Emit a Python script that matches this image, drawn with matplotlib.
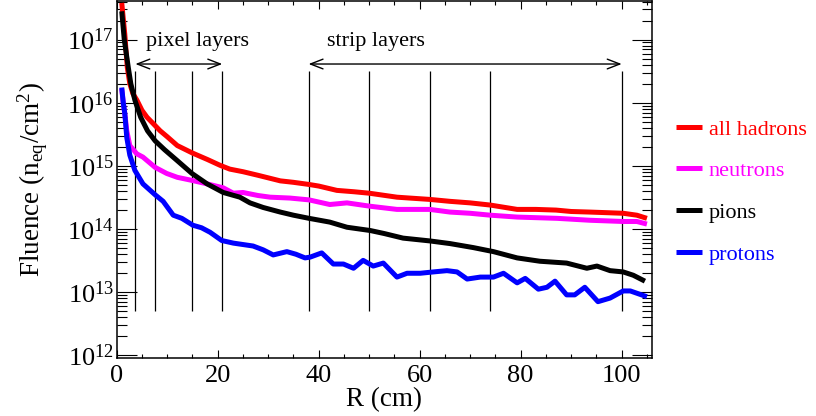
from matplotlib import pyplot as plt
import numpy as np

# radius (cm) and fluence (n_eq/cm^2)
r_all = [1.0, 1.6, 2.1, 2.6, 3.2, 4.0, 5.0, 6.0, 7.2, 8.6, 10, 12, 15, 18, 20.5, 22.4, 25, 28,
         32.4, 35, 38, 40, 43.6, 47, 50, 55.5, 58, 62, 66, 70, 74, 79.3, 83, 87, 90, 93.7, 97,
         100.3, 103, 105]
f_all = [3.8e17, 1.23e17, 3.6e16, 2.0e16, 1.4e16, 1.1e16, 7.6e15, 5.9e15, 4.7e15, 3.6e15, 2.9e15,
         2.1e15, 1.6e15, 1.26e15, 1.02e15, 8.9e14, 8.1e14, 7.1e14, 5.8e14, 5.5e14, 5.1e14, 4.8e14,
         4.1e14, 3.9e14, 3.7e14, 3.2e14, 3.1e14, 2.95e14, 2.75e14, 2.6e14, 2.4e14, 2.05e14, 2.05e14,
         2.0e14, 1.9e14, 1.86e14, 1.82e14, 1.78e14, 1.66e14, 1.48e14]

r_neu = [1.0, 1.3, 1.6, 2.0, 2.6, 4.0, 5.2, 7.6, 9.9, 12, 14.9, 17.9, 21.1, 23.1, 25, 28, 30.4,
         34.3, 38.1, 42.2, 45.6, 50.2, 55.5, 62, 66, 70, 74, 79.3, 87.2, 93.7, 100.3, 103, 105]
f_neu = [1.66e16, 1.0e16, 6.8e15, 3.6e15, 2.1e15, 1.55e15, 1.38e15, 9.5e14, 7.6e14, 6.6e14, 5.9e14,
         5.2e14, 4.5e14, 3.7e14, 3.8e14, 3.4e14, 3.2e14, 3.1e14, 2.9e14, 2.45e14, 2.6e14, 2.3e14,
         2.05e14, 2.05e14, 1.86e14, 1.78e14, 1.66e14, 1.55e14, 1.48e14, 1.38e14, 1.32e14, 1.32e14,
         1.2e14]

r_pi = [1.0, 1.5, 2.3, 2.8, 3.6, 4.75, 6.1, 7.6, 9.5, 11.9, 14.9, 17.9, 21.1, 24.4, 26.4, 29,
        32.4, 35, 38.1, 42.2, 45.6, 50.2, 53, 56.7, 62, 66, 70.6, 74.6, 79.3, 83.8, 89.1, 93.1,
        95.1, 97.7, 100.3, 102.3, 104.6]
f_pi = [2.8e17, 1.0e17, 3.6e16, 2.0e16, 1.1e16, 5.9e15, 3.6e15, 2.5e15, 1.8e15, 1.23e15, 7.6e14,
        5.2e14, 3.8e14, 3.2e14, 2.6e14, 2.2e14, 1.86e14, 1.66e14, 1.48e14, 1.29e14, 1.07e14, 9.5e13,
        8.5e13, 7.2e13, 6.5e13, 5.9e13, 5.1e13, 4.4e13, 3.5e13, 3.1e13, 2.9e13, 2.4e13, 2.6e13,
        2.2e13, 2.1e13, 1.86e13, 1.5e13]

r_pro = [1.0, 1.3, 1.6, 2.0, 2.6, 3.6, 5.2, 7.6, 9.2, 11.2, 12.9, 15.1, 16.8, 18.5, 20.8, 23.1,
         27, 29, 31, 33.7, 35.5, 37.3, 38.3, 40.6, 42.9, 44.9, 46.9, 48.8, 50.8, 52.8, 55.5, 57.5,
         60.1, 62.7, 65.4, 67.4, 69.4, 72, 74.6, 76.6, 79.3, 80.9, 83.5, 85.2, 86.8, 89.1, 90.7,
         92.7, 95.3, 97.7, 100.3, 101.7, 105]
f_pro = [1.74e16, 1.0e16, 6.8e15, 2.8e15, 1.48e15, 8.5e14, 5.2e14, 3.5e14, 2.75e14, 1.66e14,
         1.48e14, 1.15e14, 1.05e14, 8.9e13, 6.6e13, 6.0e13, 5.4e13, 4.7e13, 3.9e13, 4.4e13, 4.0e13,
         3.5e13, 3.6e13, 4.2e13, 2.8e13, 2.8e13, 2.4e13, 3.2e13, 2.6e13, 2.9e13, 1.74e13, 2.0e13,
         2.0e13, 2.1e13, 2.2e13, 2.1e13, 1.62e13, 1.74e13, 1.74e13, 2.0e13, 1.41e13, 1.66e13,
         1.12e13, 1.2e13, 1.5e13, 9.1e12, 9.1e12, 1.2e13, 7.1e12, 8.1e12, 1.05e13, 1.05e13, 8.5e12]

pixel_r = [3.7, 7.6, 14.9, 20.9]
strip_r = [38, 50, 62, 74, 100]

plt.rcParams['font.family'] = ['Liberation Serif', 'DejaVu Serif']
plt.rcParams['mathtext.fontset'] = 'custom'
plt.rcParams['mathtext.rm'] = 'Liberation Serif'
plt.rcParams['mathtext.it'] = 'Liberation Serif:italic'

fig = plt.figure(figsize=(8.16, 4.16), dpi=100)
ax = fig.add_axes([0.143, 0.139, 0.656, 0.859])

# layer positions
ax.vlines(pixel_r + strip_r, 5.07e12, 3.2e16, color='black', lw=0.9, zorder=1)
arrow = dict(arrowstyle='<->,head_length=0.9,head_width=0.35', lw=1.0, color='black',
             shrinkA=0, shrinkB=0)
ax.annotate('', xy=(pixel_r[0], 4.1e16), xytext=(pixel_r[-1], 4.1e16), arrowprops=arrow)
ax.annotate('', xy=(strip_r[0], 4.1e16), xytext=(strip_r[-1], 4.1e16), arrowprops=arrow)
ax.text(5.8, 9.3e16, 'pixel layers', fontsize=16, ha='left', va='center')
ax.text(41.6, 9.3e16, 'strip layers', fontsize=16, ha='left', va='center')

style = dict(lw=3.6, zorder=3, solid_joinstyle='round', solid_capstyle='butt')
ax.plot(r_all, f_all, color='#ff0000', label='all hadrons', **style)
ax.plot(r_neu, f_neu, color='#ff00ff', label='neutrons', **style)
ax.plot(r_pi, f_pi, color='black', label='pions', **style)
ax.plot(r_pro, f_pro, color='#0000ff', label='protons', **style)

ax.set_yscale('log')
ax.set_xlim(0, 106)
ax.set_ylim(9.06e11, 4.1e17)
ax.set_xticks([0, 20, 40, 60, 80, 100])
ax.set_xticks(np.arange(0, 106, 5), minor=True)
ax.tick_params(axis='both', which='both', direction='in', top=True, right=True, labelsize=19)
ax.tick_params(axis='x', which='major', length=6, width=0.8, pad=5)
ax.tick_params(axis='x', which='minor', length=3, width=0.8)
ax.tick_params(axis='y', which='major', length=14.5, width=0.8, pad=2)
ax.tick_params(axis='y', which='minor', length=7, width=0.8)
for s in ax.spines.values():
    s.set_linewidth(1.1)

ax.set_xlabel('R (cm)', fontsize=19.5, labelpad=0)
ax.set_ylabel('Fluence (n$_{\\mathrm{eq}}$/cm$^{2}$)', fontsize=19.5)
ax.yaxis.set_label_coords(-0.125, 0.5)

fig.legend(loc='upper left', bbox_to_anchor=(0.828, 0.714), frameon=False, fontsize=16,
           handlelength=1.2, handletextpad=0.3, labelspacing=0.95, borderpad=0,
           borderaxespad=0, labelcolor='linecolor')

fig.savefig('out.png', dpi=100)
